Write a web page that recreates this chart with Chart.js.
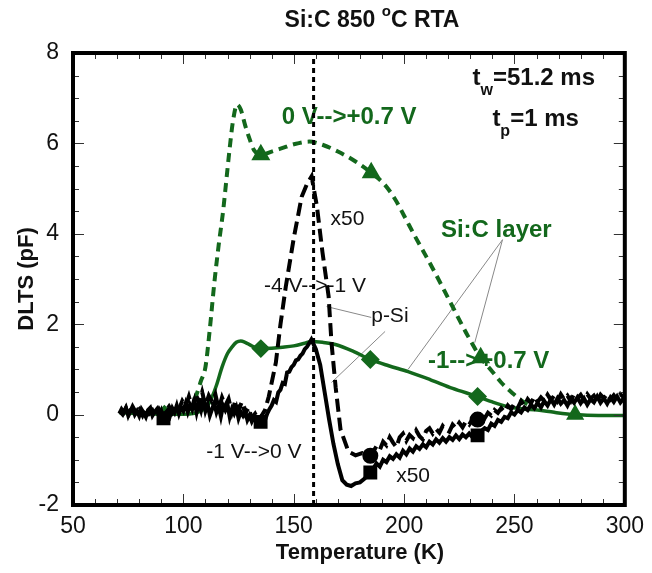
<!DOCTYPE html>
<html>
<head>
<meta charset="utf-8">
<script src="https://cdn.jsdelivr.net/npm/chart.js@4"></script>
<style>
  body { margin: 0; background: #fff; }
  #wrap { width: 652px; height: 573px; }
</style>
</head>
<body>
<div id="wrap"><canvas id="myChart" width="652" height="573"></canvas></div>
<script>
const FONT = '"Liberation Sans", Arial, sans-serif';
const GREEN = '#13681c';

// temperature (K), DLTS (pF)
const greenDash = [
    [102, 0.05], [104, 0.25], [106, 0.45], [108, 0.75], [110, 1.05], [112, 1.9], [114, 2.9],
    [116, 3.75], [118, 4.5], [119.5, 5.2], [121, 5.9], [122.5, 6.5], [124.3, 6.86], [126, 6.75],
    [128, 6.4], [130, 6.1], [132, 5.85], [135.1, 5.75], [140, 5.82], [145, 5.9], [150, 5.98],
    [157, 6.04], [163, 5.97], [170, 5.82], [178, 5.6], [185.1, 5.35], [191, 5.1], [196, 4.76],
    [200, 4.4], [205, 3.94], [210, 3.5], [214, 3.14], [221, 2.48], [229, 1.73], [234.7, 1.26],
    [240, 0.95], [244, 0.71], [249, 0.48], [254.5, 0.27], [258, 0.18]
];
const greenSolid = [
    [71, 0.04], [80, 0.02], [91.4, 0.01], [100, 0.01], [105, 0.03], [108, 0.08], [111, 0.2],
    [113.1, 0.4], [115, 0.65], [117.6, 1.06], [120, 1.35], [122.1, 1.5], [124, 1.6], [126, 1.63],
    [128, 1.6], [131, 1.52], [135.1, 1.46], [140, 1.47], [145, 1.49], [150, 1.52], [155, 1.58],
    [158.1, 1.62], [163, 1.6], [168.9, 1.55], [177, 1.4], [184.7, 1.22], [193, 1.08], [201.8, 0.95],
    [212, 0.77], [222, 0.58], [233.3, 0.4], [240, 0.28], [246.8, 0.18], [253, 0.13], [260.4, 0.1],
    [268, 0.05], [277.5, 0.0], [288, -0.02], [299.5, -0.02]
];
const blackSolid = [
    [71, 0.02], [72, 0.12], [73, 0.05], [74, 0.15], [75, -0.02], [76, 0.1], [77, 0.14], [78, 0.0],
    [79, 0.08], [80, -0.03], [81, 0.12], [82, 0.04], [83, -0.05], [84, 0.1], [85, 0.15], [86, -0.02],
    [87, 0.06], [88, 0.12], [89, -0.04], [90, 0.08], [91, -0.08], [92, 0.04], [93, 0.1], [94, -0.02],
    [95, 0.14], [96, 0.05], [97, 0.2], [98, 0.02], [99, 0.16], [100, 0.08], [101, 0.24], [102, 0.06],
    [103, 0.22], [104, 0.12], [105, 0.3], [106, 0.05], [107, 0.26], [108, 0.1], [109, 0.34], [110, 0.08],
    [111, 0.22], [112, -0.02], [113, 0.12], [114, 0.25], [115, 0.05], [116, 0.18], [117, -0.04],
    [118, 0.2], [119, 0.1], [120, 0.22], [121, -0.05], [122, 0.12], [123, 0.02], [124, 0.15],
    [125, -0.08], [126, 0.06], [127, -0.02], [128, 0.08], [129, -0.12], [130, -0.02], [131, -0.15],
    [132, -0.05], [133, -0.18], [134, -0.1], [135, -0.16], [136, -0.06], [137, -0.12], [138, 0.02],
    [139, 0.12], [140, 0.2], [141, 0.32], [142, 0.28], [143, 0.49], [144, 0.55], [145, 0.7],
    [146, 0.68], [147, 0.93], [148, 0.95], [149, 1.05], [150, 1.1], [151, 1.2], [152, 1.22],
    [153, 1.3], [154, 1.35], [155, 1.45], [156, 1.5], [157, 1.58], [158, 1.66], [160, 1.45],
    [162, 1.1], [164, 0.5], [166, -0.1], [168, -0.65], [170, -1.1], [172, -1.45], [174, -1.55],
    [176, -1.58], [178, -1.52], [180, -1.5], [182, -1.42], [184.7, -1.28], [186, -1.2],
    [187.5, -1.08], [189, -1.15], [190.5, -1.0], [192, -1.05], [193.5, -0.92], [195, -0.98],
    [196.5, -0.88], [198, -0.95], [199.5, -0.8], [201, -0.88], [202.5, -0.75], [204, -0.82],
    [205.5, -0.7], [207, -0.76], [208.5, -0.66], [210, -0.72], [211.5, -0.6], [213, -0.66],
    [214.5, -0.55], [216, -0.62], [217.5, -0.52], [219, -0.6], [220.5, -0.5], [222, -0.56],
    [223.5, -0.46], [225, -0.54], [226.5, -0.44], [228, -0.5], [229.5, -0.42], [231, -0.5],
    [233.3, -0.46], [235, -0.36], [236.5, -0.3], [238, -0.34], [239.5, -0.2], [241, -0.25],
    [242.5, -0.12], [244, -0.16], [245.5, -0.05], [247, -0.08], [248.5, 0.05], [250, 0.0],
    [251.5, 0.1], [253, 0.05], [254.5, 0.16], [256, 0.1], [257.5, 0.22], [259, 0.14], [260.5, 0.26],
    [262, 0.16], [263.5, 0.3], [265, 0.2], [266.5, 0.34], [268, 0.22], [269.5, 0.36], [271, 0.24],
    [272.5, 0.32], [274, 0.2], [275.5, 0.35], [277, 0.26], [278.5, 0.38], [280, 0.25], [281.5, 0.36],
    [283, 0.22], [284.5, 0.34], [286, 0.27], [287.5, 0.4], [289, 0.26], [290.5, 0.36], [292, 0.24],
    [293.5, 0.38], [295, 0.28], [296.5, 0.4], [298, 0.27], [299.5, 0.36]
];
const blackDash = [
    [71, 0.08], [72.5, 0.0], [74, 0.15], [75.5, 0.02], [77, 0.18], [78.5, 0.05], [80, 0.12],
    [81.5, -0.02], [83, 0.14], [84.5, 0.02], [86, 0.1], [87.5, -0.04], [89, 0.12], [90.5, 0.0],
    [92, 0.08], [93.5, 0.18], [95, 0.05], [96.5, 0.22], [98, 0.12], [99.5, 0.3], [101, 0.18],
    [102.5, 0.4], [104, 0.15], [105.5, 0.45], [107, 0.25], [108.5, 0.5], [110, 0.2], [111.5, 0.42],
    [113, 0.28], [114.5, 0.45], [116, 0.12], [117.5, 0.38], [119, 0.2], [120.5, 0.35], [122, 0.05],
    [123.5, 0.3], [125, 0.1], [126.5, 0.28], [128, 0.02], [129.5, 0.15], [131, -0.08], [132.5, 0.02],
    [134, -0.12], [135.5, -0.02], [137, 0.1], [138.7, 0.4], [141.9, 1.15], [144, 2.0], [146.4, 2.83],
    [150, 3.9], [153.6, 4.82], [156, 5.1], [158.1, 5.27], [160.5, 4.61], [163, 3.6], [165.8, 2.62],
    [167.1, 1.6], [169, 0.6], [171.2, -0.33], [174.8, -0.82], [178, -0.9], [181, -0.85],
    [184.7, -0.91], [186, -0.82], [187.5, -0.7], [189, -0.78], [190.5, -0.6], [192, -0.68],
    [193.5, -0.5], [195, -0.62], [196.5, -0.72], [198, -0.5], [199.5, -0.42], [201, -0.58],
    [202.5, -0.45], [204, -0.52], [205.5, -0.35], [207, -0.48], [208.5, -0.55], [210, -0.36],
    [211.5, -0.3], [213, -0.42], [214.5, -0.32], [216, -0.4], [217.5, -0.25], [219, -0.34],
    [220.5, -0.38], [222, -0.22], [223.5, -0.3], [225, -0.18], [226.5, -0.28], [228, -0.15],
    [229.5, -0.22], [231, -0.1], [233.3, -0.11], [235, -0.02], [236.5, -0.08], [238, 0.04],
    [239.5, -0.02], [241, 0.1], [242.5, 0.04], [244, 0.14], [245.5, 0.06], [247, 0.2], [248.5, 0.12],
    [250, 0.25], [251.5, 0.15], [253, 0.3], [254.5, 0.2], [256, 0.34], [257.5, 0.25], [259, 0.4],
    [260.5, 0.28], [262, 0.38], [263.5, 0.3], [265, 0.44], [266.5, 0.32], [268, 0.42], [269.5, 0.3],
    [271, 0.45], [272.5, 0.34], [274, 0.42], [275.5, 0.3], [277, 0.46], [278.5, 0.36], [280, 0.44],
    [281.5, 0.32], [283, 0.45], [284.5, 0.35], [286, 0.42], [287.5, 0.3], [289, 0.44], [290.5, 0.36],
    [292, 0.46], [293.5, 0.34], [295, 0.43], [296.5, 0.33], [298, 0.45], [299.5, 0.38]
];
const vLine = [[159, -2], [159, 8]];

// temperatures that carry a symbol
const greenDashTriT = [135.1, 185.1, 234.7];
const greenSolidDiaT = [91.4, 135.1, 184.7, 233.3];
const greenSolidTriT = [277.5];
const blackSquareT = [91, 135, 184.7, 233.3];
const blackCircleT = [184.7, 233.3];

const xTicks = [50, 100, 150, 200, 250, 300];
const yTicks = [-2, 0, 2, 4, 6, 8];

const toXY = arr => arr.map(p => ({ x: p[0], y: p[1] }));
const markR = (list, r) => c => (c.raw && list.includes(c.raw.x) ? r : 0);

// annotations, positions in data units (left edge, baseline)
const labels = [
    { t: '0 V-->+0.7 V', x: 144.6, y: 6.42, bold: true, size: 24, color: GREEN },
    { t: 'x50', x: 166.7, y: 4.2, size: 21, color: '#111' },
    { t: 'Si:C layer', x: 216.7, y: 3.92, bold: true, size: 24, color: GREEN },
    { t: '-4 V-->-1 V', x: 136.5, y: 2.72, size: 21, color: '#111' },
    { t: 'p-Si', x: 185.1, y: 2.04, size: 21, color: '#111' },
    { t: '-1-->+0.7 V', x: 210.8, y: 1.04, bold: true, size: 24, color: GREEN },
    { t: '-1 V-->0 V', x: 110.4, y: -0.95, size: 21, color: '#111' },
    { t: 'x50', x: 196.4, y: -1.5, size: 21, color: '#111' }
];
const leaders = [
    [[164.9, 2.39], [185.1, 2.15]],
    [[191.4, 1.84], [167.1, 0.71]],
    [[244.6, 3.87], [201.8, 1.0]],
    [[244.6, 3.87], [232.0, 1.59]]
];

function subText(ctx, x, y, main, sub, rest, size) {
    ctx.font = 'bold ' + size + 'px ' + FONT;
    ctx.fillText(main, x, y);
    x += ctx.measureText(main).width;
    ctx.font = 'bold ' + Math.round(size * 0.68) + 'px ' + FONT;
    ctx.fillText(sub, x, y + size * 0.42);
    x += ctx.measureText(sub).width;
    ctx.font = 'bold ' + size + 'px ' + FONT;
    ctx.fillText(rest, x, y);
}

const decor = {
    id: 'decor',
    beforeDatasetsDraw(chart) {
        const { ctx, scales: { x, y } } = chart;
        ctx.save();
        ctx.strokeStyle = '#888';
        ctx.lineWidth = 1;
        leaders.forEach(l => {
            ctx.beginPath();
            ctx.moveTo(x.getPixelForValue(l[0][0]), y.getPixelForValue(l[0][1]));
            ctx.lineTo(x.getPixelForValue(l[1][0]), y.getPixelForValue(l[1][1]));
            ctx.stroke();
        });
        ctx.textBaseline = 'alphabetic';
        ctx.textAlign = 'left';
        labels.forEach(l => {
            ctx.font = (l.bold ? 'bold ' : '') + l.size + 'px ' + FONT;
            ctx.fillStyle = l.color;
            ctx.fillText(l.t, x.getPixelForValue(l.x), y.getPixelForValue(l.y));
        });
        ctx.fillStyle = '#111';
        subText(ctx, x.getPixelForValue(231), y.getPixelForValue(7.3), 't', 'w', '=51.2 ms', 24);
        subText(ctx, x.getPixelForValue(240), y.getPixelForValue(6.39), 't', 'p', '=1 ms', 24);
        ctx.restore();
    },
    afterDraw(chart) {
        const { ctx, chartArea: a, scales: { x, y } } = chart;
        ctx.save();
        // inward ticks
        ctx.strokeStyle = '#333';
        ctx.lineWidth = 1;
        ctx.beginPath();
        for (let t = 50; t <= 300; t += 10) {
            const px = Math.round(x.getPixelForValue(t)) + 0.5;
            const len = t % 50 === 0 ? 11 : 6;
            ctx.moveTo(px, a.bottom); ctx.lineTo(px, a.bottom - len);
            ctx.moveTo(px, a.top); ctx.lineTo(px, a.top + len);
        }
        for (let v = -2; v <= 8; v += 0.5) {
            const py = Math.round(y.getPixelForValue(v)) + 0.5;
            const len = v % 2 === 0 ? 11 : 6;
            ctx.moveTo(a.left, py); ctx.lineTo(a.left + len, py);
            ctx.moveTo(a.right, py); ctx.lineTo(a.right - len, py);
        }
        ctx.stroke();
        // frame
        ctx.strokeStyle = '#000';
        ctx.lineWidth = 4;
        ctx.strokeRect(a.left, a.top, a.right - a.left, a.bottom - a.top);

        // title with superscript
        ctx.fillStyle = '#111';
        ctx.textBaseline = 'alphabetic';
        ctx.textAlign = 'left';
        const big = 'bold 23px ' + FONT, small = 'bold 15px ' + FONT;
        ctx.font = big;
        const w1 = ctx.measureText('Si:C 850 ').width, w3 = ctx.measureText('C RTA').width;
        ctx.font = small;
        const w2 = ctx.measureText('o').width;
        let tx = 372 - (w1 + w2 + w3) / 2;
        ctx.font = big; ctx.fillText('Si:C 850 ', tx, 27); tx += w1;
        ctx.font = small; ctx.fillText('o', tx, 16); tx += w2;
        ctx.font = big; ctx.fillText('C RTA', tx, 27);

        // axis titles
        ctx.textAlign = 'center';
        ctx.font = 'bold 22px ' + FONT;
        ctx.fillText('Temperature (K)', 360, 559);
        ctx.translate(33, (a.top + a.bottom) / 2);
        ctx.rotate(-Math.PI / 2);
        ctx.fillText('DLTS (pF)', 0, 0);
        ctx.restore();
    }
};

const data = {
    datasets: [
        {
            data: toXY(vLine),
            borderColor: '#000',
            borderWidth: 3,
            borderDash: [5, 4],
            pointRadius: 0
        },
        {
            data: toXY(blackSolid),
            borderColor: '#000',
            borderWidth: 4,
            tension: 0,
            pointStyle: 'rect',
            pointRadius: markR(blackSquareT, 7),
            pointBackgroundColor: '#000',
            pointBorderColor: '#000'
        },
        {
            data: toXY(blackDash),
            borderColor: '#000',
            borderWidth: 4,
            borderDash: [13, 6],
            tension: 0,
            pointStyle: 'circle',
            pointRadius: markR(blackCircleT, 6),
            pointBackgroundColor: '#000',
            pointBorderColor: '#000'
        },
        {
            data: toXY(greenSolid),
            borderColor: GREEN,
            borderWidth: 3.5,
            cubicInterpolationMode: 'monotone',
            pointStyle: c => (c.raw && greenSolidTriT.includes(c.raw.x) ? 'triangle' : 'rectRot'),
            pointRadius: c => (c.raw && (greenSolidDiaT.includes(c.raw.x) || greenSolidTriT.includes(c.raw.x)) ? 7 : 0),
            pointBackgroundColor: GREEN,
            pointBorderColor: GREEN
        },
        {
            data: toXY(greenDash),
            borderColor: GREEN,
            borderWidth: 4,
            borderDash: [9, 6],
            cubicInterpolationMode: 'monotone',
            pointStyle: 'triangle',
            pointRadius: markR(greenDashTriT, 7),
            pointBackgroundColor: GREEN,
            pointBorderColor: GREEN
        }
    ]
};

const config = {
    type: 'line',
    data: data,
    options: {
        responsive: false,
        animation: false,
        devicePixelRatio: 1,
        layout: { padding: { top: 53, right: 24, left: 0, bottom: 0 } },
        plugins: { legend: { display: false }, tooltip: { enabled: false } },
        scales: {
            x: {
                type: 'linear',
                min: 50,
                max: 300,
                afterBuildTicks: s => { s.ticks = xTicks.map(v => ({ value: v })); },
                afterFit: s => { s.height = 68; },
                grid: { display: false, drawTicks: false },
                border: { display: false },
                ticks: { color: '#111', padding: 8, maxRotation: 0, font: { family: FONT, size: 23 } }
            },
            y: {
                type: 'linear',
                min: -2,
                max: 8,
                afterBuildTicks: s => { s.ticks = yTicks.map(v => ({ value: v })); },
                afterFit: s => { s.width = 73; },
                grid: { display: false, drawTicks: false },
                border: { display: false },
                ticks: { color: '#111', padding: 14, font: { family: FONT, size: 23 } }
            }
        }
    },
    plugins: [decor]
};

const myChart = new Chart(document.getElementById('myChart').getContext('2d'), config);
</script>
</body>
</html>
